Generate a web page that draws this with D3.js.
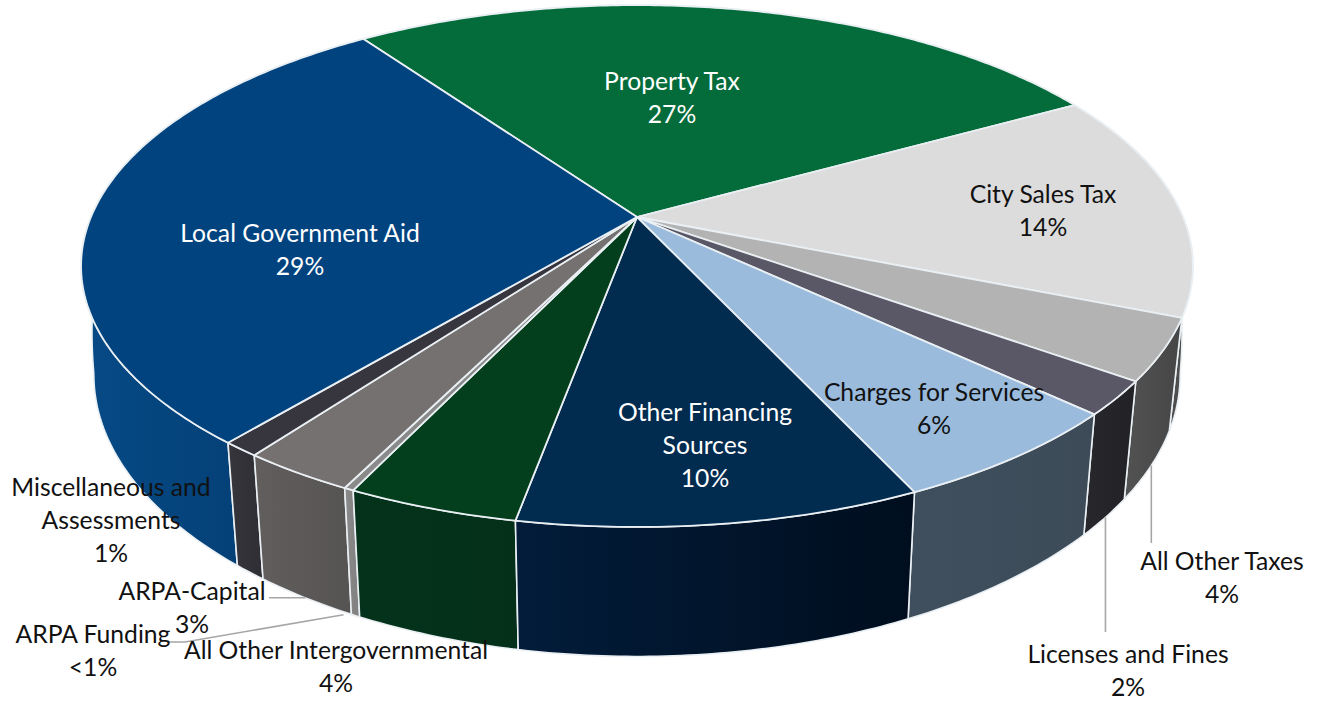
<!DOCTYPE html>
<html><head><meta charset="utf-8">
<script src="https://cdn.jsdelivr.net/npm/d3@7/dist/d3.min.js"></script>
<style>html,body{margin:0;padding:0;background:#fff}svg{display:block}text{font-family:Lato,"Open Sans",sans-serif;font-size:24.7px}</style>
</head><body><svg id="c" width="1318" height="701"></svg>
<script>
// Data, clockwise from the Property Tax wedge
const categories = ["Property Tax","City Sales Tax","All Other Taxes","Licenses and Fines","Charges for Services","Other Financing Sources","All Other Intergovernmental","ARPA Funding","ARPA-Capital","Miscellaneous and Assessments","Local Government Aid"];
const values = [26.75,14.13,3.8,2.1,6.1,9.83,4.2,0.24,2.8,0.93,29.12];
const percentLabels = ["27%","14%","4%","2%","6%","10%","4%","<1%","3%","1%","29%"];
const labelLines = [["Property Tax"],["City Sales Tax"],["All Other Taxes"],["Licenses and Fines"],["Charges for Services"],["Other Financing","Sources"],["All Other Intergovernmental"],["ARPA Funding"],["ARPA-Capital"],["Miscellaneous and","Assessments"],["Local Government Aid"]];

// Style and layout
const topColors = ["#046c3a","#dcdcdc","#b3b3b3","#5a5866","#9abbdc","#022b50","#033f1d","#8a8a8a","#757170","#37353e","#01437f"];
const wallFrom = ["#046c3a","#5e5e5e","#525252","#28272c","#3f4f5d","#021c3a","#04321a","#8a8a8a","#625e5e","#37353c","#064a86"];
const wallTo = ["#046c3a","#4a4a4a","#464646","#222126","#3d4b58","#000e1e","#04301a","#808080","#565353","#302e35","#03396b"];
const textColors = ["#fff","#111","#111","#111","#111","#fff","#111","#111","#111","#111","#fff"];
const labelCenters = [[672,80],[1043,193],[1222,560],[1128,653],[934,391],[705,411],[336,649],[93,633],[192,590],[111,486],[300,232]];
const lineHeight = 33;
const W = 1318, H = 701, rimColor = "#e9eff3";
const cx = 637, cy = 217, A = 546, B = 251.7, K = -0.188, startDeg = -35.3;

const svg = d3.select("#c"), defs = svg.append("defs");
const pie = d3.pie().sort(null).value(d=>d).startAngle(startDeg*Math.PI/180).endAngle((startDeg+360)*Math.PI/180);
const arcs = pie(values);
const depth = d3.scaleLinear().domain([195,265,382,521]).range([45,109,118,129]);
const shrink = d3.scaleLinear().domain([195,265]).range([1,0.977]).clamp(true);
const onTop = a => { const u=Math.sin(a), v=-Math.cos(a), w=1+K*v; return [cx+A*u/w, cy+B*v/w]; };
const onBottom = a => { const p=onTop(a); return [cx+(p[0]-cx)*shrink(p[1]), p[1]+Math.max(0,depth(p[1]))]; };
const path = d3.line();
const sample = (a0,a1) => { const n=Math.max(2,Math.ceil((a1-a0)/0.012)); return d3.range(n+1).map(i=>a0+(a1-a0)*i/n); };

// walls, back to front
const order = arcs.map((d,i)=>i).sort((p,q)=>onTop((arcs[p].startAngle+arcs[p].endAngle)/2)[1]-onTop((arcs[q].startAngle+arcs[q].endAngle)/2)[1]);
order.forEach(i=>{
  const d=arcs[i], as=sample(d.startAngle,d.endAngle);
  const top=as.map(onTop), bot=as.map(onBottom).reverse();
  const xs=top.concat(bot).map(p=>p[0]);
  const g=defs.append("linearGradient").attr("id","w"+i).attr("gradientUnits","userSpaceOnUse")
    .attr("x1",d3.min(xs)).attr("x2",d3.max(xs)).attr("y1",0).attr("y2",0);
  g.append("stop").attr("offset",0).attr("stop-color",wallFrom[i]);
  g.append("stop").attr("offset",1).attr("stop-color",wallTo[i]);
  svg.append("path").attr("d",path(top.concat(bot))+"Z").attr("fill",`url(#w${i})`).attr("stroke",rimColor).attr("stroke-width",1.6).attr("stroke-linejoin","round");
});
// top faces
arcs.forEach((d,i)=>{
  const pts=[[cx,cy]].concat(sample(d.startAngle,d.endAngle).map(onTop));
  svg.append("path").attr("d",path(pts)+"Z").attr("fill",topColors[i]).attr("stroke",rimColor).attr("stroke-width",1.8).attr("stroke-linejoin","round");
});

// leader lines
const leader = "#a6a6a6";
const idx = n => categories.indexOf(n);
const mid = i => (arcs[i].startAngle+arcs[i].endAngle)/2;
function lead(pts){ svg.append("path").attr("d",path(pts)).attr("fill","none").attr("stroke",leader).attr("stroke-width",1.6); }
{ const i=idx("All Other Taxes"), p=onBottom(mid(i)); lead([p,[p[0],labelCenters[i][1]-17]]); }
{ const i=idx("Licenses and Fines"), p=onBottom(mid(i)); lead([p,[p[0],labelCenters[i][1]-21]]); }
{ const i=idx("ARPA-Capital"), p=onBottom(mid(i)); lead([p,[labelCenters[i][0]+77,p[1]]]); }
{ const i=idx("ARPA Funding"), p=onBottom(mid(i)); lead([[p[0]-12,p[1]-1],[labelCenters[i][0]+92,labelCenters[i][1]+9],[labelCenters[i][0]+75,labelCenters[i][1]+9]]); }

// labels
categories.forEach((c,i)=>{
  const lines=labelLines[i].concat([percentLabels[i]]);
  const t=svg.append("text").attr("text-anchor","middle").attr("fill",textColors[i]);
  lines.forEach((s,k)=>t.append("tspan").attr("x",labelCenters[i][0]).attr("y",labelCenters[i][1]+k*lineHeight).attr("dominant-baseline","central").text(s));
});
</script></body></html>
